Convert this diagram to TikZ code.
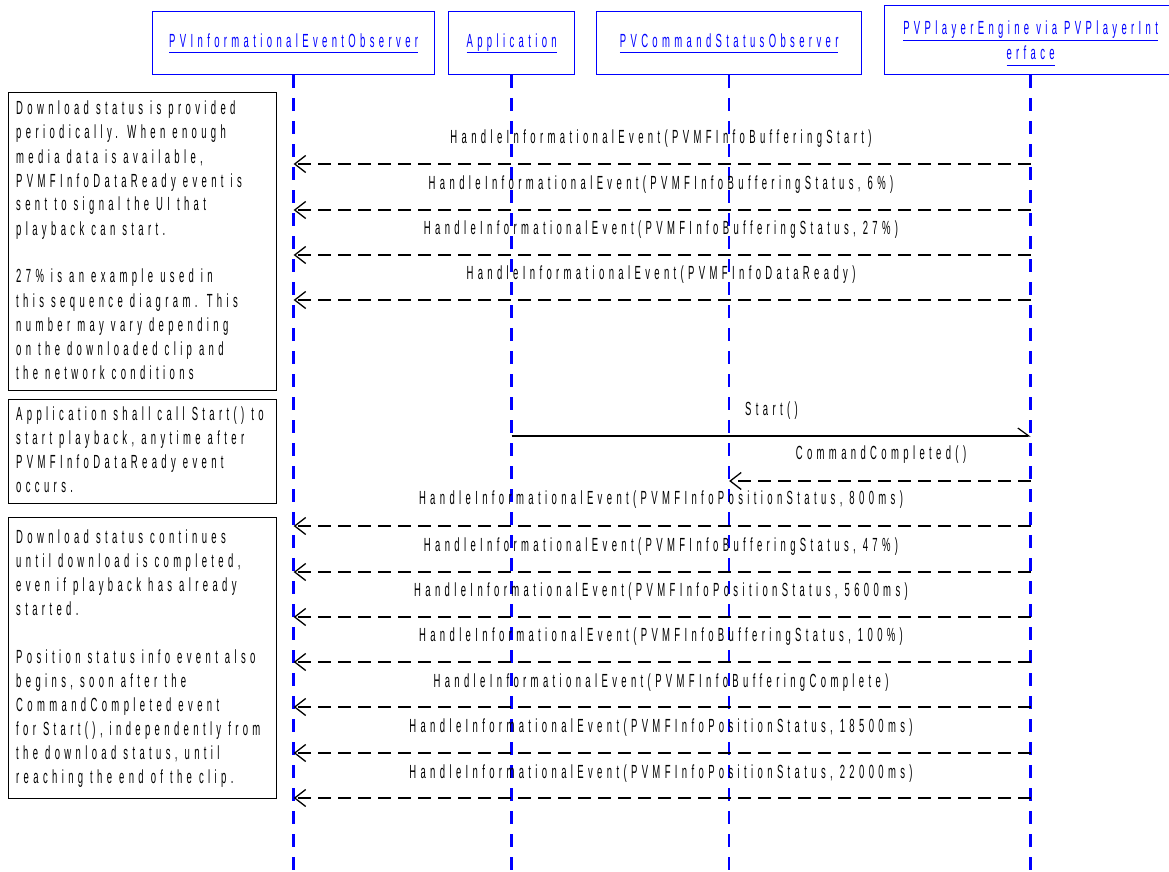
\documentclass[tikz,border=0pt]{standalone}
\usepackage{fontspec}
\newfontfamily\dfont[FakeStretch=0.5,LetterSpace=23]{Liberation Sans}
\usetikzlibrary{arrows.meta}
\newcommand\ulx[1]{\underline{#1\vphantom{gp}}}
\newcommand\notelines[1]{\begin{tabular}[t]{@{}l@{}}#1\end{tabular}}
\begin{document}
\begin{tikzpicture}[x=1pt,y=-1pt,
  every node/.style={font=\dfont\fontsize{19}{22.5}\selectfont, inner sep=0pt},
  head/.style={draw=blue, line width=1.3pt, text=blue, align=center, anchor=north west},
  note/.style={draw=black, line width=1.4pt, anchor=north west},
  notetext/.style={anchor=base west, font=\dfont\fontsize{19}{24}\selectfont},
  lifeline/.style={draw=blue, line width=2.6pt, dash pattern=on 13pt off 10pt},
  msg/.style={line width=2pt, dash pattern=on 13pt off 7pt, -{Straight Barb[length=11pt,width=17pt,line width=1.3pt]}},
  call/.style={line width=1.2pt, -{Straight Barb[harpoon,length=11pt,width=16pt,line width=1.2pt]}},
  lbl/.style={anchor=base}
]
\useasboundingbox[fill=white] (0,0) rectangle (1169,872);

% headers
\node[head, minimum width=282, minimum height=63] (h1) at (152,11) {\ulx{PVInformationalEventObserver}};
\node[head, minimum width=126, minimum height=63] (h2) at (448,11) {\ulx{Application}};
\node[head, minimum width=265, minimum height=63] (h3) at (596,11) {\ulx{PVCommandStatusObserver}};
\node[head, minimum width=292, minimum height=69] (h4) at (884,5) {\rule{0pt}{20pt}\ulx{PVPlayerEngine via PVPlayerInt}\\[3pt]\ulx{erface}};

% lifelines
\coordinate (b1) at (h1.south |- 0,872);
\coordinate (b2) at (h2.south |- 0,872);
\coordinate (b3) at (h3.south |- 0,872);
\coordinate (b4) at (h4.south |- 0,872);
\draw[lifeline] (h1.south) -- (b1);
\draw[lifeline] (h2.south) -- (b2);
\draw[lifeline] (h3.south) -- (b3);
\draw[lifeline] (h4.south) -- (b4);

% notes
\node[note, minimum width=268, minimum height=298] (n1) at (8,92) {};
\node[notetext] (t1) at (16,115) {\notelines{Download status is provided\\periodically. When enough\\media data is available,\\PVMFInfoDataReady event is\\sent to signal the UI that\\playback can start.\\[24pt]27\% is an example used in\\this sequence diagram. This\\number may vary depending\\on the downloaded clip and\\the network conditions}};
\node[note, minimum width=268, minimum height=104] (n2) at (8,399) {};
\node[notetext] (t2) at (16,420) {\notelines{Application shall call Start() to\\start playback, anytime after\\PVMFInfoDataReady event\\occurs.}};
\node[note, minimum width=268, minimum height=281] (n3) at (8,517) {};
\node[notetext] (t3) at (16,543) {\notelines{Download status continues\\until download is completed,\\even if playback has already\\started.\\[24pt]Position status info event also\\begins, soon after the\\CommandCompleted event\\for Start(), independently from\\the download status, until\\reaching the end of the clip.}};

% message end points
\foreach \i/\y in {1/164,2/210,3/255,4/300,7/526,8/572,9/617,10/662,11/707,12/753,13/798}{
  \coordinate (e\i) at (h4.south |- 0,\y);
  \coordinate (o\i) at (h1.south |- 0,\y);
}
\coordinate (s1) at (h2.south |- 0,436);
\coordinate (s2) at (h4.south |- 0,436);
\coordinate (c1) at (h4.south |- 0,481);
\coordinate (c2) at (h3.south |- 0,481);

% messages
\node[lbl] (l1) at (661,143) {HandleInformationalEvent(PVMFInfoBufferingStart)};
\draw[msg] (e1) -- (o1);
\node[lbl] (l2) at (661,189) {HandleInformationalEvent(PVMFInfoBufferingStatus, 6\%)};
\draw[msg] (e2) -- (o2);
\node[lbl] (l3) at (661,234) {HandleInformationalEvent(PVMFInfoBufferingStatus, 27\%)};
\draw[msg] (e3) -- (o3);
\node[lbl] (l4) at (661,279) {HandleInformationalEvent(PVMFInfoDataReady)};
\draw[msg] (e4) -- (o4);

\node[anchor=base west] (l5) at (745,415) {Start()};
\draw[call] (s1) -- (s2);
\node[lbl] (l6) at (881,459) {CommandCompleted()};
\draw[msg] (c1) -- (c2);

\node[lbl] (l7) at (661,504) {HandleInformationalEvent(PVMFInfoPositionStatus, 800ms)};
\draw[msg] (e7) -- (o7);
\node[lbl] (l8) at (661,551) {HandleInformationalEvent(PVMFInfoBufferingStatus, 47\%)};
\draw[msg] (e8) -- (o8);
\node[lbl] (l9) at (661,596) {HandleInformationalEvent(PVMFInfoPositionStatus, 5600ms)};
\draw[msg] (e9) -- (o9);
\node[lbl] (l10) at (661,641) {HandleInformationalEvent(PVMFInfoBufferingStatus, 100\%)};
\draw[msg] (e10) -- (o10);
\node[lbl] (l11) at (661,687) {HandleInformationalEvent(PVMFInfoBufferingComplete)};
\draw[msg] (e11) -- (o11);
\node[lbl] (l12) at (661,732) {HandleInformationalEvent(PVMFInfoPositionStatus, 18500ms)};
\draw[msg] (e12) -- (o12);
\node[lbl] (l13) at (661,778) {HandleInformationalEvent(PVMFInfoPositionStatus, 22000ms)};
\draw[msg] (e13) -- (o13);
\end{tikzpicture}
\end{document}
